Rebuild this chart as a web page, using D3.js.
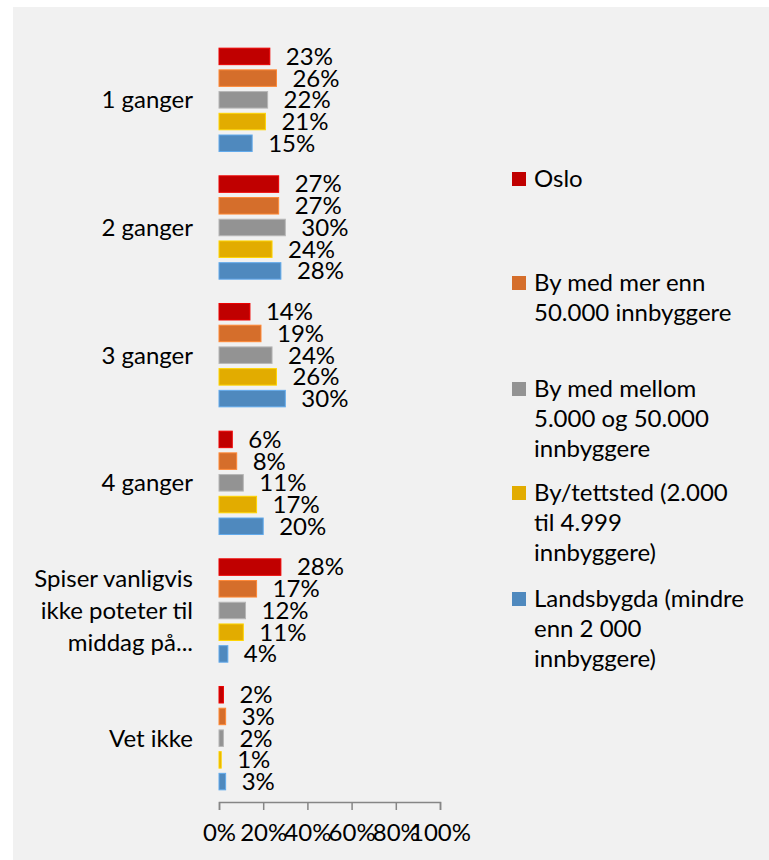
<!DOCTYPE html>
<html>
<head>
<meta charset="utf-8">
<script src="https://cdn.jsdelivr.net/npm/d3@7"></script>
<style>
body { margin: 0; background: #fff; }
text { font-family: Lato, "Open Sans", sans-serif; fill: #000; }
</style>
</head>
<body>
<div id="chart"></div>
<script>
// data
const categories = ["1 ganger", "2 ganger", "3 ganger", "4 ganger", "Spiser vanligvis ikke poteter til middag på...", "Vet ikke"];
const categoryLines = [["1 ganger"], ["2 ganger"], ["3 ganger"], ["4 ganger"], ["Spiser vanligvis", "ikke poteter til", "middag på..."], ["Vet ikke"]];
const series = ["Oslo", "By med mer enn 50.000 innbyggere", "By med mellom 5.000 og 50.000 innbyggere", "By/tettsted (2.000 til 4.999 innbyggere)", "Landsbygda (mindre enn 2 000 innbyggere)"];
const seriesLines = [["Oslo"], ["By med mer enn", "50.000 innbyggere"], ["By med mellom", "5.000 og 50.000", "innbyggere"], ["By/tettsted (2.000", "til 4.999", "innbyggere)"], ["Landsbygda (mindre", "enn 2 000", "innbyggere)"]];
const oslo = [23, 27, 14, 6, 28, 2];
const storBy = [26, 27, 19, 8, 17, 3];
const mellomBy = [22, 30, 24, 11, 12, 2];
const tettsted = [21, 24, 26, 17, 11, 1];
const landsbygda = [15, 28, 30, 20, 4, 3];
const xTicks = [0, 20, 40, 60, 80, 100];
const colors = ["#c00000", "#d56e2b", "#939393", "#e2ac00", "#4f89be"];

const values = [oslo, storBy, mellomBy, tettsted, landsbygda];
const data = categories.map((c, i) => ({
  cat: c,
  vals: series.map((s, j) => ({ s: s, v: values[j][i] }))
}));

const W = 769, H = 860;
const margin = { top: 36, left: 219, bottom: 58, right: 329 };
const width = W - margin.left - margin.right;
const height = H - margin.top - margin.bottom;
const fs = "24px";

const svg = d3.select("#chart").append("svg")
  .attr("width", W)
  .attr("height", H);

// chart area background
svg.append("rect")
  .attr("x", 13).attr("y", 7)
  .attr("width", W - 13).attr("height", H - 7)
  .attr("fill", "#f1f1f1");

const g = svg.append("g")
  .attr("transform", "translate(" + margin.left + "," + margin.top + ")");

const x = d3.scaleLinear().domain([0, 100]).range([0, width]);
const y0 = d3.scaleBand().domain(categories).range([0, height]);
const y1 = d3.scaleBand().domain(series).range([0, y0.bandwidth()])
  .paddingInner(0.24).paddingOuter(0.56);
const color = d3.scaleOrdinal().domain(series).range(colors);

// x axis
const xAxis = d3.axisBottom(x)
  .tickValues(xTicks)
  .tickSize(8)
  .tickPadding(14)
  .tickFormat(d => d + "%");

const ax = g.append("g")
  .attr("transform", "translate(0," + height + ")")
  .call(xAxis);
ax.select(".domain").attr("stroke", "#868686").attr("stroke-width", 1.5);
ax.selectAll(".tick line").attr("stroke", "#868686").attr("stroke-width", 1.5);
ax.selectAll(".tick text").style("font-size", fs).attr("fill", "#000");

// bar groups
const groups = g.selectAll(".group")
  .data(data)
  .enter()
  .append("g")
  .attr("class", "group")
  .attr("transform", d => "translate(0," + y0(d.cat) + ")");

groups.selectAll("rect")
  .data(d => d.vals)
  .enter()
  .append("rect")
  .attr("x", 0)
  .attr("y", d => y1(d.s))
  .attr("width", d => x(d.v))
  .attr("height", y1.bandwidth())
  .attr("fill", d => color(d.s))
  .attr("stroke", d => d3.color(color(d.s)).brighter(0.6))
  .attr("stroke-width", 1);

groups.selectAll(".label")
  .data(d => d.vals)
  .enter()
  .append("text")
  .attr("class", "label")
  .attr("x", d => x(d.v) + 16)
  .attr("y", d => y1(d.s) + y1.bandwidth() / 2)
  .attr("dy", "0.35em")
  .style("font-size", fs)
  .text(d => d.v + "%");

// category labels
const lineH = 32;
g.selectAll(".cat")
  .data(categories)
  .enter()
  .append("text")
  .attr("class", "cat")
  .attr("text-anchor", "end")
  .attr("x", -26)
  .attr("y", d => y0(d) + y0.bandwidth() / 2)
  .style("font-size", fs)
  .each(function(d, i) {
    const lines = categoryLines[i];
    const off = -(lines.length - 1) / 2 * lineH;
    d3.select(this).selectAll("tspan")
      .data(lines)
      .enter()
      .append("tspan")
      .attr("x", -26)
      .attr("dy", (l, k) => k === 0 ? (off / 24 + 0.35) + "em" : lineH + "px")
      .text(l => l);
  });

// legend
const legendY = [179, 283, 389, 493, 599];
const legend = svg.selectAll(".legend")
  .data(series)
  .enter()
  .append("g")
  .attr("class", "legend")
  .attr("transform", (d, i) => "translate(512," + legendY[i] + ")");

legend.append("rect")
  .attr("x", 0)
  .attr("y", -7)
  .attr("width", 14)
  .attr("height", 14)
  .attr("fill", d => color(d));

legend.append("text")
  .attr("x", 22)
  .attr("y", 0)
  .style("font-size", fs)
  .each(function(d, i) {
    d3.select(this).selectAll("tspan")
      .data(seriesLines[i])
      .enter()
      .append("tspan")
      .attr("x", 22)
      .attr("dy", (l, k) => k === 0 ? "0.35em" : "30px")
      .text(l => l);
  });
</script>
</body>
</html>
